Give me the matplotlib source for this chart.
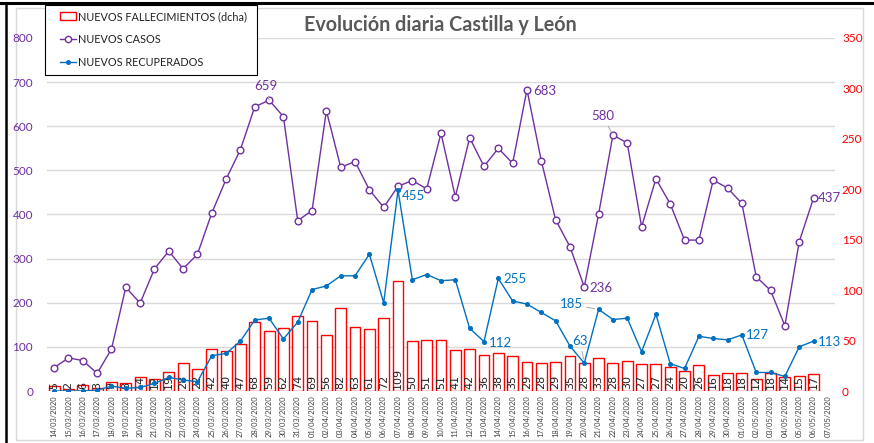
import matplotlib
matplotlib.use("Agg")
import matplotlib.pyplot as plt
from matplotlib.lines import Line2D
from matplotlib.patches import Patch, Rectangle
import numpy as np
import pandas as pd

plt.rcParams['font.family'] = ['Lato', 'DejaVu Sans']

# ---------------- data ----------------
dates = pd.date_range("2020-03-14", "2020-05-07", freq="D").strftime("%d/%m/%Y").tolist()

deaths = [5, 2, 6, 3, 9, 8, 14, 12, 19, 28, 22, 42, 40, 47, 68, 59, 62, 74,
          69, 56, 82, 63, 61, 72, 109, 50, 51, 51, 41, 42, 36, 38, 35, 29, 28, 29,
          35, 28, 33, 28, 30, 27, 27, 24, 20, 26, 16, 18,
          18, 12, 18, 14, 15, 17]

cases = [53, 75, 69, 40, 95, 235, 199, 277, 317, 277, 310, 403, 480, 547, 644, 659, 622, 386,
         409, 635, 507, 520, 456, 416, 464, 477, 458, 584, 440, 574, 509, 550, 516, 683, 522, 388,
         327, 236, 401, 580, 562, 372, 481, 424, 342, 342, 478, 460,
         425, 259, 228, 148, 338, 437]

recovered = [0, 0, 0, 2, 11, 6, 8, 17, 31, 25, 21, 80, 85, 113, 161, 165, 118, 156,
             230, 238, 261, 261, 310, 200, 455, 252, 264, 250, 252, 142, 112, 255, 204, 197, 178, 159,
             102, 63, 185, 162, 165, 89, 174, 62, 51, 124, 119, 116,
             127, 42, 42, 33, 100, 113]

series_labels = ["NUEVOS FALLECIMIENTOS (dcha)", "NUEVOS CASOS", "NUEVOS RECUPERADOS"]
title = "Evolución diaria Castilla y León"
left_ticks = list(range(0, 801, 100))
right_ticks = list(range(0, 351, 50))

# annotations: (index, offset_px_x, offset_px_y, ha, leader)
case_notes = [(15, -3, 14, 'center', True), (33, 6, -1, 'left', False),
              (39, -10, 19, 'center', True), (37, 5, -1, 'left', False),
              (53, 4, 0, 'left', False)]
rec_notes = [(24, 4, -6, 'left', False), (30, 5, -1, 'left', False),
             (31, 5, -1, 'left', False), (38, -16, 5, 'right', True),
             (37, -4, 22, 'center', True), (48, 4, 0, 'left', False),
             (53, 4, -1, 'left', False)]

PURPLE = "#7030A0"
BLUE = "#0070C0"
RED = "#FF0000"

W, H = 874, 443
fig = plt.figure(figsize=(W / 100, H / 100), dpi=100)

# outer decorations (sheet borders and chart area)
fig.add_artist(Rectangle((16 / W, 3 / H), (863 - 16) / W, (438 - 6) / H, transform=fig.transFigure,
                         facecolor='white', edgecolor='#D9D9D9', lw=1, zorder=0))
fig.add_artist(Line2D([0, 1], [1 - 3 / H, 1 - 3 / H], transform=fig.transFigure, color='black', lw=2.2))
fig.add_artist(Line2D([6 / W, 6 / W], [0, 1 - 3 / H], transform=fig.transFigure, color='black', lw=1.8))

ax = fig.add_axes([47 / W, 1 - 391 / H, (835 - 47) / W, (391 - 38) / H])
ax2 = ax.twinx()

x = np.arange(len(dates))
n = len(deaths)

# grid lines (left-axis values) drawn underneath the bars
for v in left_ticks[1:]:
    ax2.axhline(v * 350 / 800, color='#D9D9D9', lw=1.0, zorder=0)
ax2.axhline(0, color='#D9D9D9', lw=1.0, zorder=0)

# bars on the right axis
ax2.bar(x[:n], deaths, width=0.76, facecolor='white', edgecolor=RED, linewidth=1.0, zorder=2)
for xi, v in zip(x[:n], deaths):
    ax2.text(xi, 1.5, str(v), rotation=90, ha='center', va='bottom', fontsize=8,
             family='DejaVu Sans', color='#222222', zorder=3)
ax2.set_ylim(0, 350)
ax2.set_yticks(right_ticks)
ax2.tick_params(axis='y', length=0, colors=RED, labelsize=8.5, pad=5)

# lines on the left axis, above the bars
ax.set_zorder(ax2.get_zorder() + 1)
ax.patch.set_visible(False)
ax.plot(x[:n], cases, color=PURPLE, lw=1.0, marker='o', ms=4.8, mfc='white', mec=PURPLE, mew=1.0, zorder=4)
ax.plot(x[:n], recovered, color=BLUE, lw=1.0, marker='o', ms=2.6, mfc=BLUE, mec=BLUE, zorder=4)

ax.set_ylim(0, 800)
ax.set_xlim(-0.5, len(dates) - 0.5)
ax.set_yticks(left_ticks)
ax.tick_params(axis='y', length=0, colors=PURPLE, labelsize=8.5, pad=10)
ax.set_xticks(x)
ax.set_xticklabels(dates, rotation=90, fontsize=5.4, color='#404040')
ax.tick_params(axis='x', length=0, pad=3)
ax2.set_xticks(x)
ax2.tick_params(axis='x', length=0, labelbottom=False)
for a in (ax, ax2):
    for s in a.spines.values():
        s.set_visible(False)


def annotate(series, notes, color):
    for idx, dx, dy, ha, leader in notes:
        kw = {}
        if leader:
            kw['arrowprops'] = dict(arrowstyle='-', color='#A6A6A6', lw=0.7, shrinkA=1, shrinkB=3)
        ax.annotate(str(series[idx]), xy=(x[idx], series[idx]), xytext=(dx, dy),
                    textcoords='offset pixels', ha=ha, va='center', fontsize=9.5,
                    color=color, zorder=6, **kw)


annotate(cases, case_notes, PURPLE)
annotate(recovered, rec_notes, BLUE)

fig.text(440 / W, 1 - 25 / H, title, ha='center', va='center', fontsize=14.2,
         fontweight='bold', color='#595959')

# legend: frame drawn separately to match the reference box
fig.add_artist(Rectangle((45 / W, 1 - 75 / H), (257 - 45) / W, 70 / H, transform=fig.transFigure,
                         facecolor='white', edgecolor='black', lw=0.8, zorder=5))
handles = [Patch(facecolor='white', edgecolor=RED, lw=1.0),
           Line2D([], [], color=PURPLE, lw=1.0, marker='o', ms=4.5, mfc='white', mec=PURPLE),
           Line2D([], [], color=BLUE, lw=1.0, marker='o', ms=2.6, mfc=BLUE, mec=BLUE)]
leg = fig.legend(handles, series_labels, loc='upper left', bbox_to_anchor=(60 / W, 1 - 11 / H),
                 frameon=False, fontsize=7.8,
                 handlelength=1.5, handletextpad=0.15, labelspacing=1.12, borderpad=0,
                 borderaxespad=0)
leg.set_zorder(6)
for t in leg.get_texts():
    t.set_color('#222222')

fig.savefig("out.png", dpi=100)
